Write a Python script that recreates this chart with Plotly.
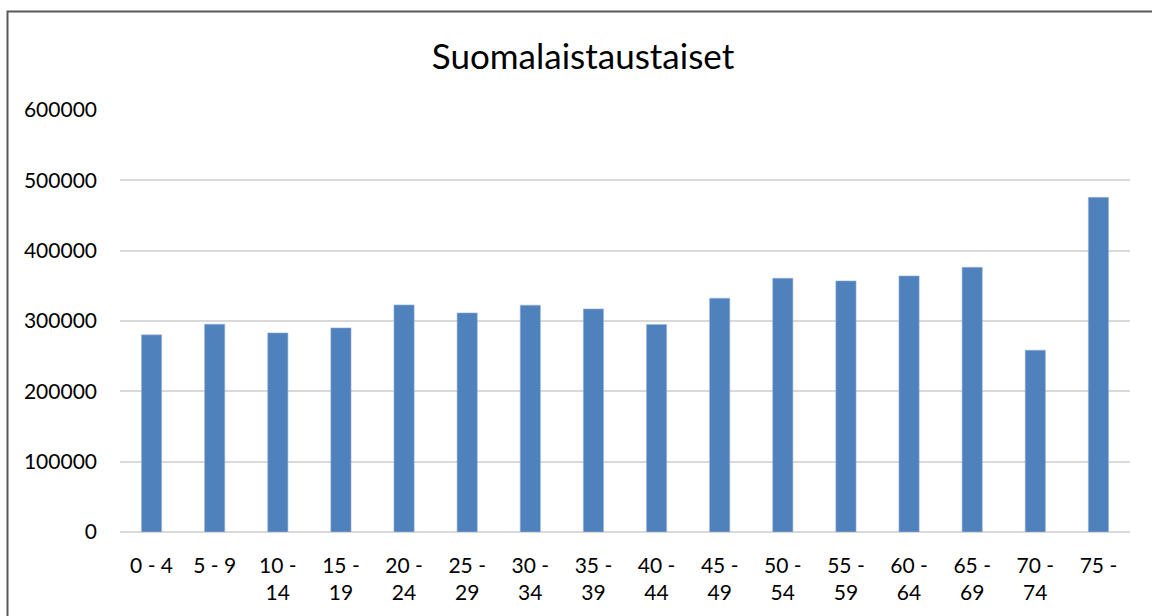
import plotly.graph_objects as go

categories = ["0 - 4", "5 - 9", "10 -<br>14", "15 -<br>19", "20 -<br>24", "25 -<br>29",
              "30 -<br>34", "35 -<br>39", "40 -<br>44", "45 -<br>49", "50 -<br>54",
              "55 -<br>59", "60 -<br>64", "65 -<br>69", "70 -<br>74", "75 -"]
values = [280300, 295500, 283100, 290200, 322900, 311500, 322500, 317200,
          294900, 332400, 360800, 357000, 364100, 376400, 258500, 475800]
y_ticks = [0, 100000, 200000, 300000, 400000, 500000, 600000]
title_text = "Suomalaistaustaiset"

FONT = "Lato"

fig = go.Figure(go.Bar(
    x=list(range(len(categories))), y=values,
    marker=dict(color="#4f81bd", line=dict(color="#9db5d8", width=0.6)),
    width=0.32,
))

fx0 = (7.5 - 120) / 1010
fx1 = (1152 - 120) / 1010
fy0 = -84 / 422.3
fy1 = (532.3 - 11.5) / 422.3
frame = dict(color="#595959", width=2)

fig.update_layout(
    width=1152, height=616,
    margin=dict(l=120, r=22, t=110, b=84),
    paper_bgcolor="white", plot_bgcolor="white",
    showlegend=False,
    title=dict(text=title_text, x=583 / 1152, xanchor="center", xref="container",
               y=1 - 57 / 616, yanchor="middle",
               font=dict(family=FONT, size=35, color="#000000")),
    font=dict(family=FONT, size=21, color="#000000"),
    xaxis=dict(
        tickmode="array", tickvals=list(range(len(categories))), ticktext=categories,
        range=[-0.5, len(categories) - 0.5],
        showgrid=False, zeroline=False, showline=False, ticks="",
        tickangle=0, ticklen=0, ticklabelstandoff=19,
        tickfont=dict(family=FONT, size=21, color="#000000"),
    ),
    yaxis=dict(
        range=[0, 600000], tickmode="array", tickvals=y_ticks,
        ticktext=[str(v) for v in y_ticks],
        showgrid=True, gridcolor="#d9d9d9", gridwidth=1.5,
        zeroline=True, zerolinecolor="#d9d9d9", zerolinewidth=1.5,
        showline=False, ticks="", ticklabelstandoff=22,
        tickfont=dict(family=FONT, size=21, color="#000000"),
    ),
    shapes=[
        dict(type="path", xref="paper", yref="paper",
             path=f"M {fx0},{fy0} L {fx0},{fy1} L {fx1},{fy1}",
             line=frame, fillcolor="rgba(0,0,0,0)", layer="above"),
    ],
)

fig.write_html(
    "out.html",
    config={"displayModeBar": False},
    post_script="document.body.style.margin='0';document.body.style.padding='0';"
                "document.body.style.overflow='hidden';"
                "document.documentElement.style.overflow='hidden';"
                "var s=document.createElement('style');"
                "s.textContent='::-webkit-scrollbar{display:none;width:0;height:0}"
                "html,body{scrollbar-width:none}';"
                "document.head.appendChild(s);",
)
